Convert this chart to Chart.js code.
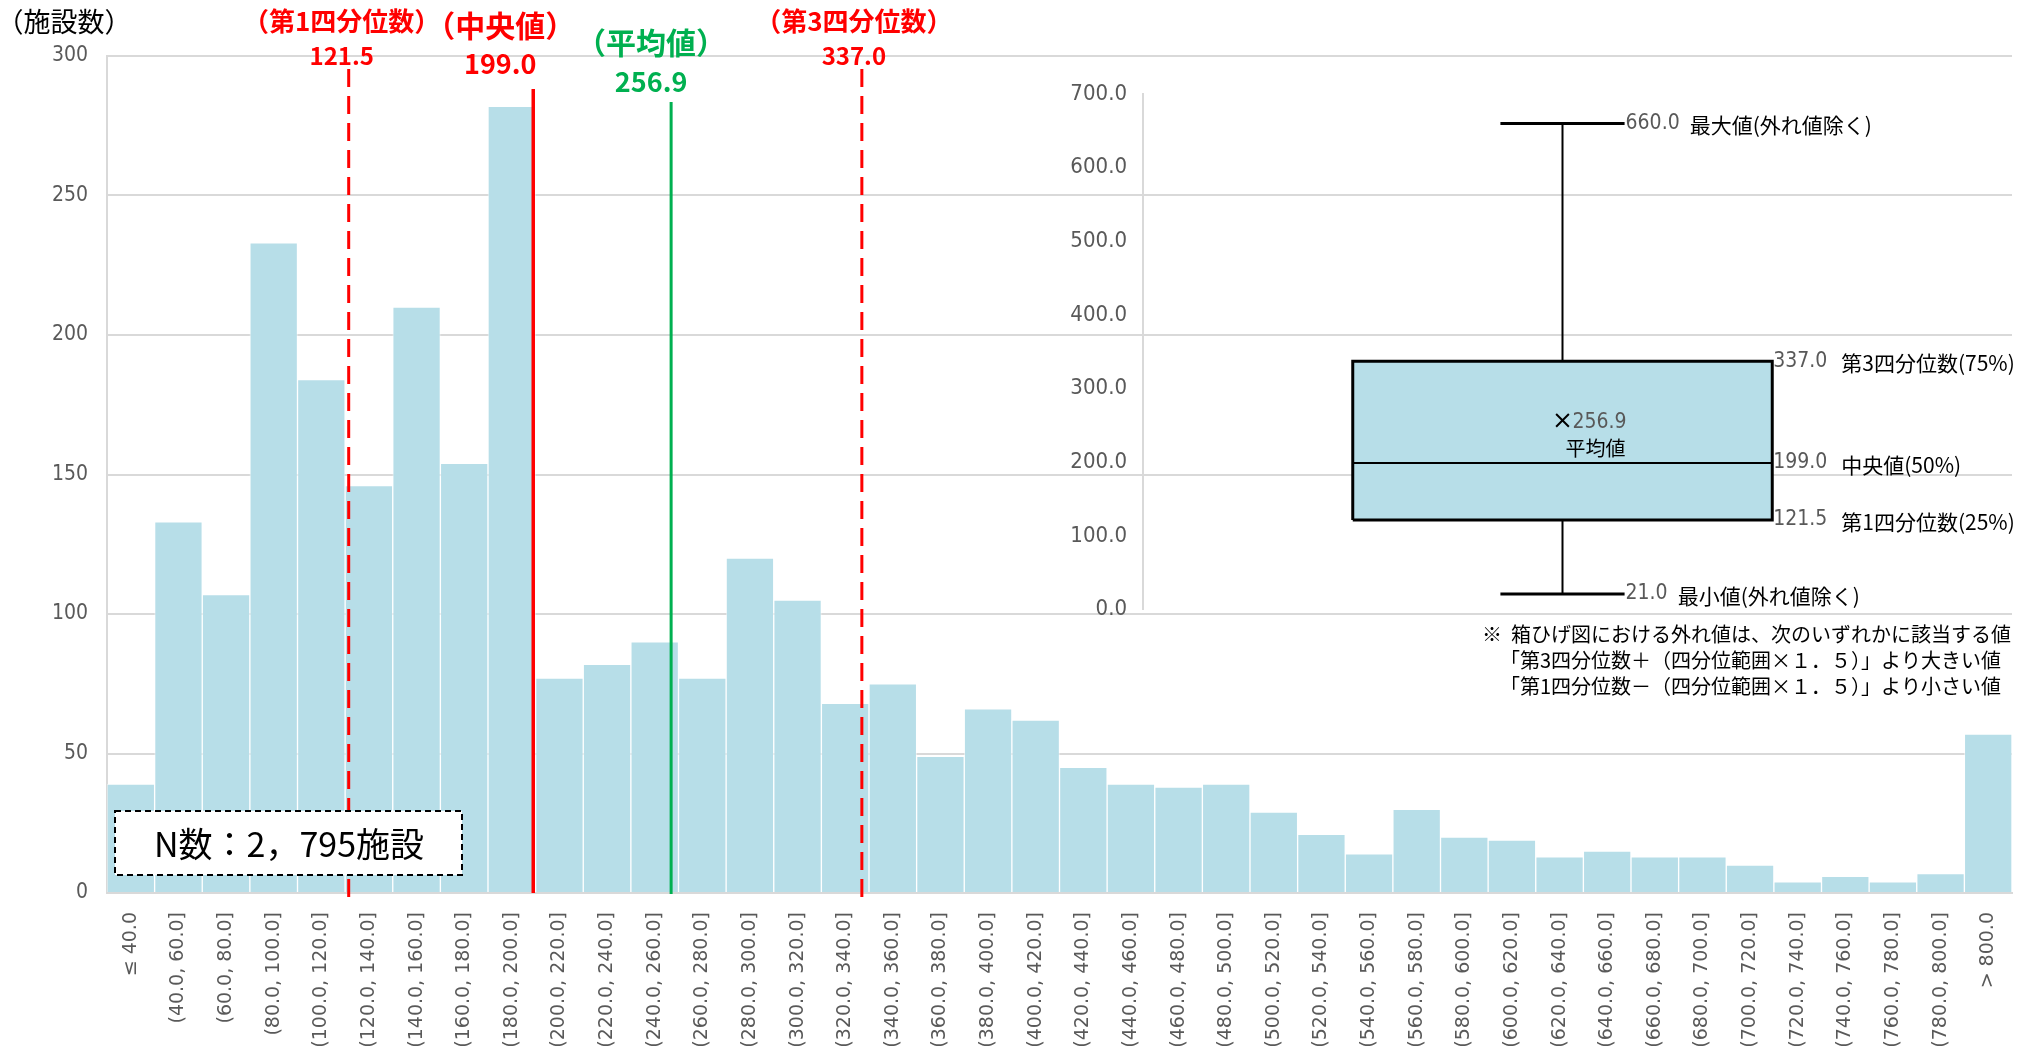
<!DOCTYPE html>
<html lang="ja">
<head>
  <meta charset="UTF-8"/>
  <title>施設数の分布</title>
  <script src="https://cdn.jsdelivr.net/npm/chart.js"></script>
  <style>
    body { margin: 0; background: #fff; }
    #wrap { position: relative; width: 2042px; height: 1046px; }
    #mainChart { position: absolute; left: 0; top: 0; }
    #boxChart { position: absolute; left: 1040px; top: 70px; }
  </style>
</head>
<body>
<div id="wrap">
  <canvas id="mainChart" width="2042" height="1046"></canvas>
  <canvas id="boxChart" width="990" height="560"></canvas>
</div>
<script>
  // histogram bins (width 20, first bin "≤ 40", last bin "> 800")
  const binLabels = [
    '≤ 40.0', '(40.0, 60.0]', '(60.0, 80.0]', '(80.0, 100.0]', '(100.0, 120.0]',
    '(120.0, 140.0]', '(140.0, 160.0]', '(160.0, 180.0]', '(180.0, 200.0]', '(200.0, 220.0]',
    '(220.0, 240.0]', '(240.0, 260.0]', '(260.0, 280.0]', '(280.0, 300.0]', '(300.0, 320.0]',
    '(320.0, 340.0]', '(340.0, 360.0]', '(360.0, 380.0]', '(380.0, 400.0]', '(400.0, 420.0]',
    '(420.0, 440.0]', '(440.0, 460.0]', '(460.0, 480.0]', '(480.0, 500.0]', '(500.0, 520.0]',
    '(520.0, 540.0]', '(540.0, 560.0]', '(560.0, 580.0]', '(580.0, 600.0]', '(600.0, 620.0]',
    '(620.0, 640.0]', '(640.0, 660.0]', '(660.0, 680.0]', '(680.0, 700.0]', '(700.0, 720.0]',
    '(720.0, 740.0]', '(740.0, 760.0]', '(760.0, 780.0]', '(780.0, 800.0]', '> 800.0'
  ];
  const counts = [
    39, 133, 107, 233, 184, 146, 210, 154, 282, 77,
    82, 90, 77, 120, 105, 68, 75, 49, 66, 62,
    45, 39, 38, 39, 29, 21, 14, 30, 20, 19,
    13, 15, 13, 13, 10, 4, 6, 4, 7, 57
  ];
  const binStart = 40;
  const binStep = 20;
  const yTicks = [0, 50, 100, 150, 200, 250, 300];

  // summary statistics
  const q1 = 121.5;
  const median = 199.0;
  const mean = 256.9;
  const q3 = 337.0;
  const whiskerMax = 660.0;
  const whiskerMin = 21.0;
  const nCount = '2，795';

  // box plot labels (value, name)
  const boxValues = [whiskerMax, q3, median, q1, whiskerMin];
  const boxNames = ['最大値(外れ値除く)', '第3四分位数(75%)', '中央値(50%)', '第1四分位数(25%)', '最小値(外れ値除く)'];
  const boxTicks = [0, 100, 200, 300, 400, 500, 600, 700];

  const noteLines = [
    '※  箱ひげ図における外れ値は、次のいずれかに該当する値',
    '「第3四分位数＋（四分位範囲×１．５）」より大きい値',
    '「第1四分位数－（四分位範囲×１．５）」より小さい値'
  ];

  const RED = '#ff0000';
  const GREEN = '#00b050';
  const GRAY = '#595959';
  const GRID = '#d9d9d9';
  const BAR = '#b7dee8';
  const JP = "'Noto Sans CJK JP', sans-serif";
  const NARROW = "'DejaVu Sans Condensed', 'DejaVu Sans', sans-serif";

  // value -> fractional category index on the histogram axis
  function binIndex(v) {
    return 1 + (v - binStart) / binStep - 0.5;
  }

  const refLines = [
    { value: q1, name: '（第1四分位数）', color: RED, dash: [18, 9], width: 3, top: 69, bottom: 898, size: 26, nameY: 21, valY: 56, dx: -7 },
    { value: median, name: '（中央値）', color: RED, dash: [], width: 3.5, top: 89, bottom: 893, size: 30, nameY: 26, valY: 64, dx: -33 },
    { value: mean, name: '（平均値）', color: GREEN, dash: [], width: 3, top: 102, bottom: 894, size: 30, nameY: 43, valY: 82, dx: -20 },
    { value: q3, name: '（第3四分位数）', color: RED, dash: [18, 9], width: 3, top: 69, bottom: 898, size: 26, nameY: 21, valY: 56, dx: -8 }
  ];
  const valueSizes = [24, 27, 27, 24];

  const histMarks = {
    id: 'histMarks',
    afterDatasetsDraw(chart) {
      const ctx = chart.ctx;
      const xs = chart.scales.x;
      ctx.save();
      refLines.forEach(l => {
        const x = xs.getPixelForValue(binIndex(l.value));
        ctx.beginPath();
        ctx.setLineDash(l.dash);
        ctx.strokeStyle = l.color;
        ctx.lineWidth = l.width;
        ctx.moveTo(x, l.top);
        ctx.lineTo(x, l.bottom);
        ctx.stroke();
      });
      ctx.restore();
    },
    afterDraw(chart) {
      const ctx = chart.ctx;
      const xs = chart.scales.x;
      ctx.save();
      ctx.textAlign = 'center';
      ctx.textBaseline = 'middle';
      refLines.forEach((l, i) => {
        const x = xs.getPixelForValue(binIndex(l.value)) + l.dx;
        ctx.fillStyle = l.color;
        ctx.font = `bold ${l.size}px ${JP}`;
        ctx.fillText(l.name, x, l.nameY);
        ctx.font = `bold ${valueSizes[i]}px ${JP}`;
        ctx.fillText(l.value.toFixed(1), x, l.valY);
      });

      // axis title
      ctx.fillStyle = '#000';
      ctx.font = `27px ${JP}`;
      ctx.fillText('（施設数）', 64, 22);

      // N box
      ctx.fillStyle = '#fff';
      ctx.fillRect(115, 811, 347, 64);
      ctx.setLineDash([6, 4]);
      ctx.strokeStyle = '#000';
      ctx.lineWidth = 2;
      ctx.strokeRect(115, 811, 347, 64);
      ctx.setLineDash([]);
      ctx.fillStyle = '#000';
      ctx.font = `34px ${JP}`;
      ctx.fillText('N数：' + nCount + '施設', 289, 844);

      // outlier note
      ctx.textAlign = 'left';
      ctx.font = `20px ${JP}`;
      ctx.fillText(noteLines[0], 1482, 634);
      ctx.fillText(noteLines[1], 1500, 660);
      ctx.fillText(noteLines[2], 1500, 686);
      ctx.restore();
    }
  };

  new Chart(document.getElementById('mainChart'), {
    type: 'bar',
    data: {
      labels: binLabels,
      datasets: [{
        data: counts,
        backgroundColor: BAR,
        borderColor: 'rgba(255,255,255,0.5)',
        borderWidth: 1,
        barPercentage: 1,
        categoryPercentage: 1
      }]
    },
    options: {
      responsive: false,
      animation: false,
      layout: { padding: { top: 56, right: 30, left: 0, bottom: 0 } },
      plugins: { legend: { display: false }, tooltip: { enabled: false } },
      scales: {
        x: {
          grid: { display: false, drawTicks: false },
          border: { color: GRID, width: 2 },
          ticks: {
            autoSkip: false, maxRotation: 90, minRotation: 90, padding: 19,
            color: GRAY, font: { family: "'DejaVu Sans', sans-serif", size: 19 }
          },
          afterFit: s => { s.height = 153; }
        },
        y: {
          min: yTicks[0],
          max: yTicks[yTicks.length - 1],
          ticks: {
            stepSize: yTicks[1] - yTicks[0], padding: 19,
            color: GRAY, font: { family: NARROW, size: 21 }
          },
          grid: { color: GRID, lineWidth: 2, drawTicks: false },
          border: { color: GRID, width: 2 },
          afterFit: s => { s.width = 107; }
        }
      }
    },
    plugins: [histMarks]
  });

  // ---- box plot inset ----
  const half = 0.5;   // half box width (x units)
  const cap = 0.148;  // half whisker cap width

  const boxLabels = {
    id: 'boxLabels',
    afterDraw(chart) {
      const ctx = chart.ctx;
      const xs = chart.scales.x, ys = chart.scales.y;
      ctx.save();
      ctx.textBaseline = 'middle';
      ctx.textAlign = 'left';
      boxValues.forEach((v, i) => {
        const y = ys.getPixelForValue(v);
        const isEnd = (i === 0 || i === boxValues.length - 1);
        const x0 = xs.getPixelForValue(isEnd ? cap : half) + 1;
        ctx.font = `21px ${NARROW}`;
        ctx.fillStyle = GRAY;
        const txt = v.toFixed(1);
        ctx.fillText(txt, x0, y);
        const xn = isEnd ? x0 + ctx.measureText(txt).width + 10 : x0 + 68;
        ctx.font = `21px ${JP}`;
        ctx.fillStyle = '#000';
        ctx.fillText(boxNames[i], xn, y + 2);
      });
      const cx = xs.getPixelForValue(0);
      const my = ys.getPixelForValue(mean);
      ctx.font = `21px ${NARROW}`;
      ctx.fillStyle = GRAY;
      ctx.fillText(mean.toFixed(1), cx + 10, my + 2);
      ctx.font = `20px ${JP}`;
      ctx.fillStyle = '#000';
      ctx.textAlign = 'center';
      ctx.fillText('平均値', cx + 33, my + 28);
      ctx.restore();
    }
  };

  const clear = 'rgba(0,0,0,0)';
  new Chart(document.getElementById('boxChart'), {
    type: 'line',
    data: {
      datasets: [
        { data: [{ x: -half, y: q3 }, { x: half, y: q3 }], borderColor: clear, backgroundColor: BAR, fill: '+1' },
        { data: [{ x: -half, y: q1 }, { x: half, y: q1 }], borderColor: clear, fill: false },
        { data: [{ x: -half, y: q1 }, { x: -half, y: q3 }, { x: half, y: q3 }, { x: half, y: q1 }, { x: -half, y: q1 }], borderColor: '#000', borderWidth: 3, fill: false },
        { data: [{ x: -half, y: median }, { x: half, y: median }], borderColor: '#000', borderWidth: 2, fill: false },
        { data: [{ x: 0, y: q3 }, { x: 0, y: whiskerMax }], borderColor: '#000', borderWidth: 2, fill: false },
        { data: [{ x: 0, y: whiskerMin }, { x: 0, y: q1 }], borderColor: '#000', borderWidth: 2, fill: false },
        { data: [{ x: -cap, y: whiskerMax }, { x: cap, y: whiskerMax }], borderColor: '#000', borderWidth: 3, fill: false },
        { data: [{ x: -cap, y: whiskerMin }, { x: cap, y: whiskerMin }], borderColor: '#000', borderWidth: 3, fill: false },
        { data: [{ x: 0, y: mean }], showLine: false, pointStyle: 'crossRot', pointRadius: 9, borderColor: '#000', pointBorderWidth: 2 }
      ]
    },
    options: {
      responsive: false,
      animation: false,
      elements: { point: { radius: 0 }, line: { tension: 0 } },
      layout: { autoPadding: false, padding: { top: 24, right: 48, bottom: 20.5, left: 0 } },
      plugins: {
        legend: { display: false },
        tooltip: { enabled: false },
        filler: { drawTime: 'beforeDatasetsDraw' }
      },
      scales: {
        x: { type: 'linear', min: -1, max: 1, display: false },
        y: {
          min: boxTicks[0],
          max: boxTicks[boxTicks.length - 1],
          ticks: {
            stepSize: boxTicks[1] - boxTicks[0], padding: 16,
            callback: v => v.toFixed(1),
            color: GRAY, font: { family: NARROW, size: 22 }
          },
          grid: { display: false, drawTicks: false },
          border: { color: GRID, width: 2 },
          afterFit: s => { s.width = 103; s.paddingTop = 0; s.paddingBottom = 0; }
        }
      }
    },
    plugins: [boxLabels]
  });
</script>
</body>
</html>
